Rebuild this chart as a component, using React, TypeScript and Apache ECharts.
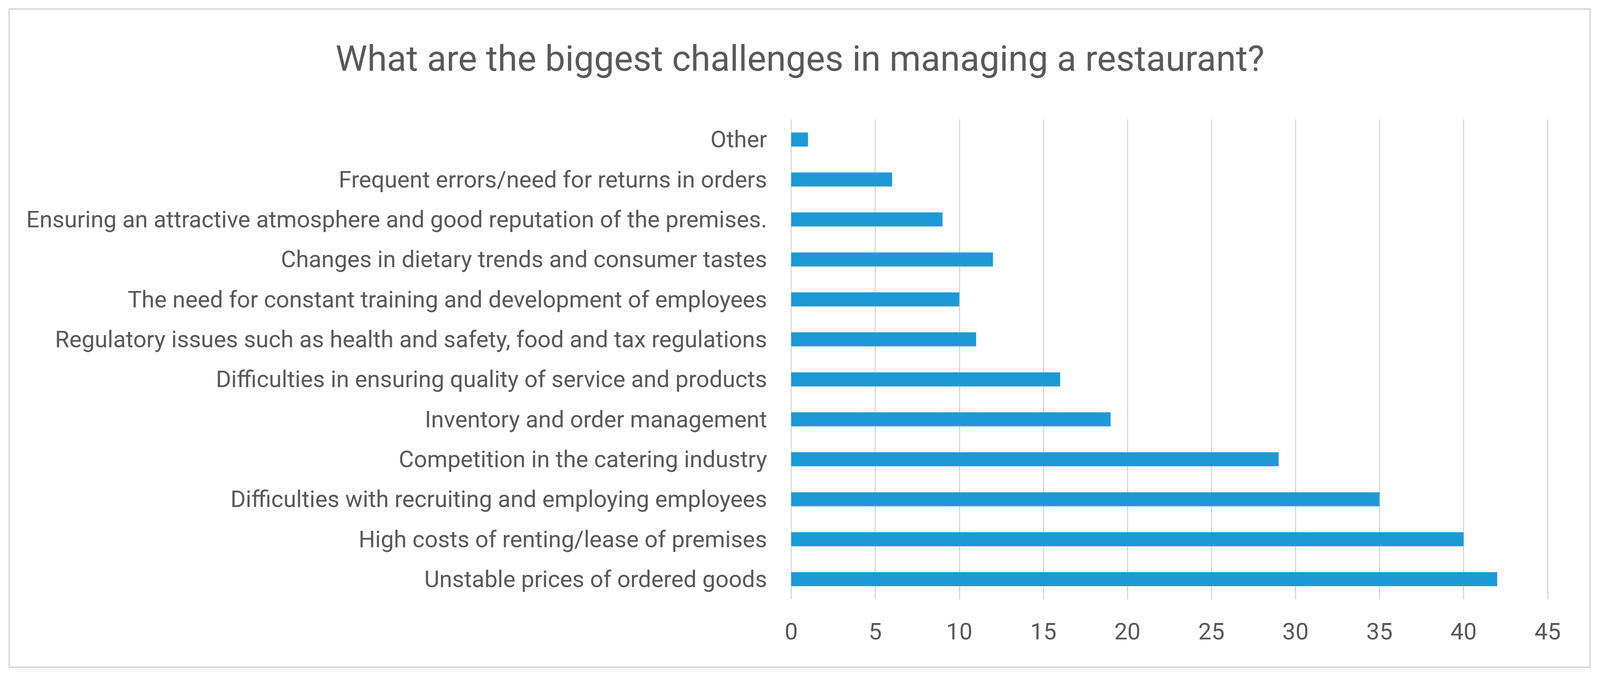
import React, { useEffect, useRef } from "react";
import * as echarts from "echarts";

const categories = [
  "Unstable prices of ordered goods",
  "High costs of renting/lease of premises",
  "Difficulties with recruiting and employing employees",
  "Competition in the catering industry",
  "Inventory and order management",
  "Difficulties in ensuring quality of service and products",
  "Regulatory issues such as health and safety, food and tax regulations",
  "The need for constant training and development of employees",
  "Changes in dietary trends and consumer tastes",
  "Ensuring an attractive atmosphere and good reputation of the premises.",
  "Frequent errors/need for returns in orders",
  "Other",
];

const values = [42, 40, 35, 29, 19, 16, 11, 10, 12, 9, 6, 1];

const titleText = "What are the biggest challenges in managing a restaurant?";

const FONT = "Roboto, 'Open Sans', sans-serif";
const TEXT_COLOR = "#595959";
const BAR_COLOR = "#1B9AD6";
const GRID_COLOR = "#D9D9D9";

const REF_W = 4368;
const REF_H = 1746;

export default function App() {
  const ref = useRef<HTMLDivElement>(null);
  useEffect(() => {
    if (!ref.current) return;
    const W = ref.current.clientWidth || window.innerWidth;
    const H = ref.current.clientHeight || window.innerHeight;
    const sx = W / REF_W;
    const sy = H / REF_H;
    const chart = echarts.init(ref.current, null, { renderer: "svg" });
    chart.setOption({
      animation: false,
      backgroundColor: "#ffffff",
      title: {
        text: titleText,
        left: "center",
        top: 98 * sy,
        textStyle: {
          fontFamily: FONT,
          fontSize: 91.5 * sy,
          fontWeight: "normal",
          color: TEXT_COLOR,
        },
      },
      graphic: [
        {
          type: "rect",
          shape: { x: 25 * sx, y: 23 * sy, width: 4316 * sx, height: 1685 * sy },
          style: { fill: "none", stroke: GRID_COLOR, lineWidth: 4 },
          silent: true,
        },
      ],
      grid: {
        left: 2160 * sx,
        right: 143 * sx,
        top: 306 * sy,
        bottom: 212 * sy,
        containLabel: false,
      },
      xAxis: {
        type: "value",
        min: 0,
        max: 45,
        interval: 5,
        axisLine: { show: false },
        axisTick: { show: false },
        splitLine: { show: true, lineStyle: { color: GRID_COLOR, width: 3 } },
        axisLabel: {
          fontFamily: FONT,
          fontSize: 60 * sy,
          color: TEXT_COLOR,
          margin: 52 * sy,
        },
      },
      yAxis: {
        type: "category",
        data: categories,
        axisLine: { show: false },
        axisTick: { show: false },
        splitLine: { show: false },
        axisLabel: {
          fontFamily: FONT,
          fontSize: 59.5 * sy,
          color: TEXT_COLOR,
          margin: 66 * sx,
        },
      },
      series: [
        {
          type: "bar",
          data: values,
          barWidth: 36 * sy,
          itemStyle: { color: BAR_COLOR },
        },
      ],
    });
    return () => chart.dispose();
  }, []);
  return (
    <div
      ref={ref}
      style={{ position: "fixed", left: 0, top: 0, width: "100vw", height: "100vh" }}
    />
  );
}
